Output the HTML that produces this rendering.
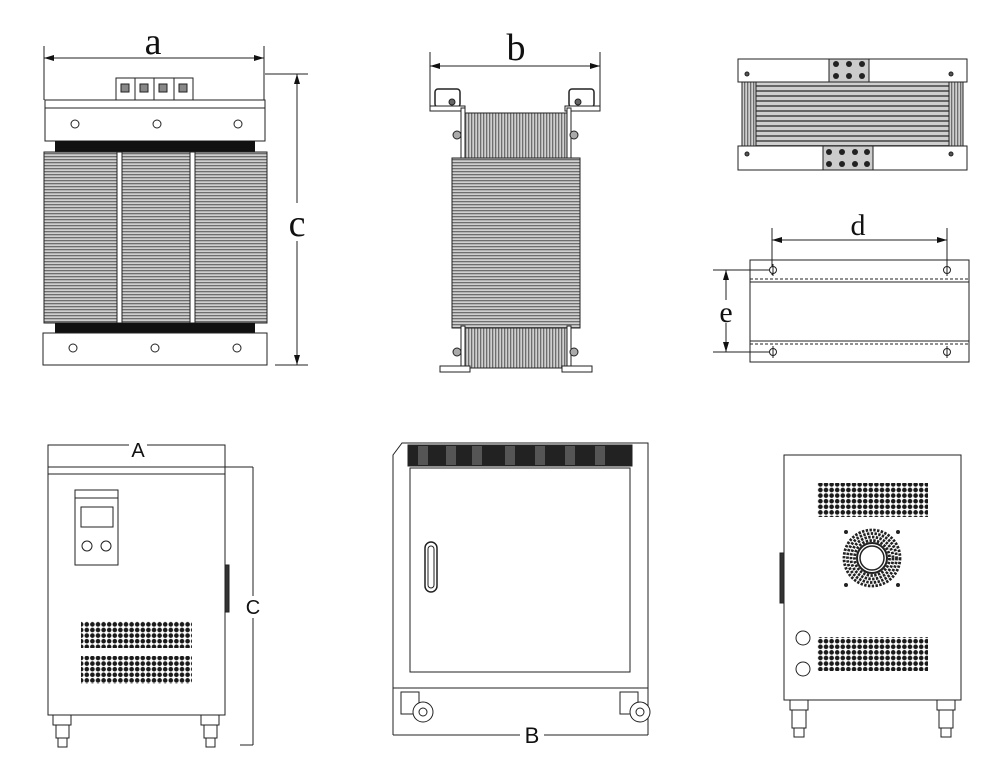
<!DOCTYPE html>
<html><head><meta charset="utf-8"><style>
html,body{margin:0;padding:0;background:#fff;}
svg{display:block;}
text{font-family:"Liberation Serif",serif;fill:#111;}
.s{font-family:"Liberation Sans",sans-serif;}
</style></head><body>
<svg width="1000" height="772" viewBox="0 0 1000 772" xmlns="http://www.w3.org/2000/svg">
<defs>
<pattern id="lh" width="4" height="3" patternUnits="userSpaceOnUse"><rect width="4" height="3" fill="#d0d0d0"/><rect width="4" height="1.3" fill="#6e6e6e"/></pattern>
<pattern id="lv" width="3" height="4" patternUnits="userSpaceOnUse"><rect width="3" height="4" fill="#d0d0d0"/><rect width="1.3" height="4" fill="#6e6e6e"/></pattern>
<pattern id="lh2" width="4" height="5" patternUnits="userSpaceOnUse"><rect width="4" height="5" fill="#cfcfcf"/><rect width="4" height="2" fill="#666"/></pattern>
<pattern id="dots" width="5.6" height="5.6" patternUnits="userSpaceOnUse"><circle cx="2.8" cy="2.8" r="2.3" fill="#1a1a1a"/></pattern>
<marker id="ar" viewBox="0 0 10 6" refX="10" refY="3" markerWidth="10" markerHeight="6" orient="auto-start-reverse" markerUnits="userSpaceOnUse"><path d="M0,0 L10,3 L0,6 Z" fill="#111"/></marker>
</defs>
<g stroke="#222" stroke-width="1" fill="none">
<!-- Top-left transformer -->
<line x1="44" y1="46" x2="44" y2="100"/><line x1="264" y1="46" x2="264" y2="100"/>
<line x1="44" y1="58" x2="264" y2="58" marker-start="url(#ar)" marker-end="url(#ar)"/>
<rect x="116" y="78" width="77" height="22" fill="#fff"/>
<line x1="135" y1="78" x2="135" y2="100"/><line x1="154" y1="78" x2="154" y2="100"/><line x1="174" y1="78" x2="174" y2="100"/>
<rect x="121" y="84" width="8" height="8" fill="#888"/><rect x="140" y="84" width="8" height="8" fill="#888"/><rect x="159" y="84" width="8" height="8" fill="#888"/><rect x="179" y="84" width="8" height="8" fill="#888"/>
<rect x="45" y="100" width="220" height="41" fill="#fff"/><line x1="45" y1="108" x2="265" y2="108"/>
<circle cx="75" cy="124" r="4"/><circle cx="157" cy="124" r="4"/><circle cx="238" cy="124" r="4"/>
<rect x="55" y="141" width="200" height="11" fill="#111" stroke="none"/>
<rect x="44" y="152" width="223" height="171" fill="url(#lh)"/>
<rect x="117" y="152" width="5" height="171" fill="#fff"/><rect x="190" y="152" width="5" height="171" fill="#fff"/>
<rect x="55" y="323" width="200" height="10" fill="#111" stroke="none"/>
<rect x="43" y="333" width="224" height="32" fill="#fff"/>
<circle cx="73" cy="348" r="4"/><circle cx="155" cy="348" r="4"/><circle cx="237" cy="348" r="4"/>
<line x1="265" y1="74" x2="308" y2="74"/><line x1="275" y1="365" x2="308" y2="365"/>
<line x1="297" y1="74" x2="297" y2="365" marker-start="url(#ar)" marker-end="url(#ar)"/>
<!-- Top-middle -->
<line x1="430" y1="52" x2="430" y2="108"/><line x1="600" y1="52" x2="600" y2="108"/>
<line x1="430" y1="66" x2="600" y2="66" marker-start="url(#ar)" marker-end="url(#ar)"/>
<rect x="435" y="89" width="25" height="18" rx="3" stroke-width="1.5"/><rect x="569" y="89" width="25" height="18" rx="3" stroke-width="1.5"/>
<circle cx="452" cy="102" r="3" fill="#666"/><circle cx="578" cy="102" r="3" fill="#666"/>
<rect x="430" y="106" width="35" height="5" fill="#fff"/><rect x="565" y="106" width="35" height="5" fill="#fff"/>
<rect x="465" y="113" width="102" height="45" fill="url(#lv)"/>
<rect x="461" y="108" width="4" height="52" fill="#fff"/><rect x="567" y="108" width="4" height="52" fill="#fff"/>
<circle cx="457" cy="135" r="4" fill="#aaa"/><circle cx="574" cy="135" r="4" fill="#aaa"/>
<rect x="452" y="158" width="128" height="170" fill="url(#lh)"/>
<rect x="465" y="328" width="102" height="40" fill="url(#lv)"/>
<rect x="461" y="326" width="4" height="44" fill="#fff"/><rect x="567" y="326" width="4" height="44" fill="#fff"/>
<circle cx="457" cy="352" r="4" fill="#aaa"/><circle cx="574" cy="352" r="4" fill="#aaa"/>
<rect x="440" y="366" width="30" height="6" fill="#fff"/><rect x="562" y="366" width="30" height="6" fill="#fff"/>
<!-- Top-right -->
<rect x="738" y="59" width="229" height="23" fill="#fff"/>
<rect x="738" y="146" width="229" height="24" fill="#fff"/>
<rect x="756" y="82" width="193" height="64" fill="url(#lh2)"/>
<rect x="742" y="82" width="14" height="64" fill="url(#lv)"/><rect x="949" y="82" width="14" height="64" fill="url(#lv)"/>
<circle cx="747" cy="74" r="2" fill="#555"/><circle cx="951" cy="74" r="2" fill="#555"/><circle cx="747" cy="154" r="2" fill="#555"/><circle cx="951" cy="154" r="2" fill="#555"/>
<rect x="829" y="59" width="40" height="23" fill="#ccc"/>
<rect x="823" y="146" width="50" height="24" fill="#ccc"/>
<g fill="#222" stroke="none">
<circle cx="836" cy="64" r="3"/><circle cx="849" cy="64" r="3"/><circle cx="862" cy="64" r="3"/>
<circle cx="836" cy="76" r="3"/><circle cx="849" cy="76" r="3"/><circle cx="862" cy="76" r="3"/>
<circle cx="829" cy="152" r="3"/><circle cx="842" cy="152" r="3"/><circle cx="855" cy="152" r="3"/><circle cx="867" cy="152" r="3"/>
<circle cx="829" cy="164" r="3"/><circle cx="842" cy="164" r="3"/><circle cx="855" cy="164" r="3"/><circle cx="867" cy="164" r="3"/>
</g>
<!-- d/e view -->
<rect x="750" y="260" width="219" height="102" fill="#fff"/>
<line x1="750" y1="279" x2="969" y2="279" stroke-dasharray="3 2"/><line x1="750" y1="282" x2="969" y2="282"/>
<line x1="750" y1="341" x2="969" y2="341"/><line x1="750" y1="344" x2="969" y2="344" stroke-dasharray="3 2"/>
<line x1="772" y1="228" x2="772" y2="275"/><line x1="947" y1="228" x2="947" y2="275"/>
<line x1="772" y1="240" x2="947" y2="240" marker-start="url(#ar)" marker-end="url(#ar)"/>
<line x1="713" y1="270" x2="770" y2="270"/><line x1="713" y1="352" x2="770" y2="352"/>
<line x1="726" y1="270" x2="726" y2="300" marker-start="url(#ar)"/><line x1="726" y1="323" x2="726" y2="352" marker-end="url(#ar)"/>
<g fill="#fff"><circle cx="773" cy="270" r="3.5"/><circle cx="947" cy="270" r="3.5"/><circle cx="773" cy="352" r="3.5"/><circle cx="947" cy="352" r="3.5"/></g>
<line x1="773" y1="264" x2="773" y2="276"/><line x1="947" y1="264" x2="947" y2="276"/><line x1="773" y1="346" x2="773" y2="358"/><line x1="947" y1="346" x2="947" y2="358"/>
<!-- Bottom-left cabinet -->
<rect x="48" y="445" width="177" height="270" fill="#fff"/>
<line x1="48" y1="467" x2="225" y2="467"/><line x1="48" y1="474" x2="225" y2="474"/>
<rect x="75" y="490" width="43" height="75"/><line x1="75" y1="498" x2="118" y2="498"/>
<rect x="81" y="507" width="32" height="20"/>
<circle cx="87" cy="546" r="5"/><circle cx="106" cy="546" r="5"/>
<rect x="81" y="621" width="111" height="27" fill="url(#dots)" stroke="none"/>
<rect x="81" y="656" width="111" height="28" fill="url(#dots)" stroke="none"/>
<rect x="225" y="565" width="4" height="47" fill="#333"/>
<line x1="225" y1="467" x2="253" y2="467"/><line x1="240" y1="745" x2="253" y2="745"/>
<line x1="253" y1="467" x2="253" y2="745"/>
<rect x="53" y="715" width="18" height="10" fill="#fff"/><rect x="56" y="725" width="13" height="13"/><rect x="58" y="738" width="9" height="9"/>
<rect x="201" y="715" width="18" height="10" fill="#fff"/><rect x="204" y="725" width="13" height="13"/><rect x="206" y="738" width="9" height="9"/>
<!-- Bottom-middle cabinet -->
<path d="M393,735 L393,455 L402,443 L648,443 L648,735" fill="#fff"/>
<rect x="408" y="445" width="224" height="21" fill="#222"/>
<g fill="#555" stroke="none"><rect x="418" y="446" width="10" height="19"/><rect x="446" y="446" width="10" height="19"/><rect x="472" y="446" width="10" height="19"/><rect x="505" y="446" width="10" height="19"/><rect x="535" y="446" width="10" height="19"/><rect x="565" y="446" width="10" height="19"/><rect x="595" y="446" width="10" height="19"/></g>
<rect x="410" y="468" width="220" height="204"/>
<rect x="425" y="542" width="12" height="50" rx="6" stroke-width="1.5"/><rect x="428" y="546" width="6" height="42" rx="3"/>
<line x1="393" y1="688" x2="648" y2="688"/>
<rect x="401" y="692" width="18" height="22" fill="#fff"/><circle cx="423" cy="712" r="10" fill="#fff"/><circle cx="423" cy="712" r="4"/>
<rect x="620" y="692" width="18" height="22" fill="#fff"/><circle cx="640" cy="712" r="10" fill="#fff"/><circle cx="640" cy="712" r="4"/>
<line x1="393" y1="735" x2="520" y2="735"/><line x1="544" y1="735" x2="648" y2="735"/>
<!-- Bottom-right cabinet -->
<rect x="784" y="455" width="177" height="245" fill="#fff"/>
<rect x="817" y="483" width="111" height="34" fill="url(#dots)" stroke="none"/>
<rect x="817" y="637" width="111" height="34" fill="url(#dots)" stroke="none"/>
<g stroke="#222" stroke-width="2.8" stroke-dasharray="2.4 1.4">
<circle cx="872" cy="558" r="28"/><circle cx="872" cy="558" r="24.5"/><circle cx="872" cy="558" r="21"/><circle cx="872" cy="558" r="17.5"/>
</g>
<circle cx="872" cy="558" r="15" stroke-width="2"/><circle cx="872" cy="558" r="12" fill="#fff" stroke-width="1.5"/>
<g fill="#222" stroke="none"><circle cx="846" cy="532" r="2"/><circle cx="898" cy="532" r="2"/><circle cx="846" cy="585" r="2"/><circle cx="898" cy="585" r="2"/></g>
<circle cx="803" cy="638" r="7"/><circle cx="803" cy="669" r="7"/>
<rect x="780" y="553" width="4" height="50" fill="#333"/>
<rect x="790" y="700" width="18" height="10" fill="#fff"/><rect x="792" y="710" width="14" height="18"/><rect x="794" y="728" width="10" height="9"/>
<rect x="937" y="700" width="18" height="10" fill="#fff"/><rect x="939" y="710" width="14" height="18"/><rect x="941" y="728" width="10" height="9"/>
</g>
<!-- labels -->
<text x="153" y="54" font-size="38" text-anchor="middle">a</text>
<rect x="285" y="203" width="24" height="38" fill="#fff"/>
<text x="297" y="236" font-size="38" text-anchor="middle">c</text>
<text x="516" y="60" font-size="38" text-anchor="middle">b</text>
<text x="858" y="235" font-size="30" text-anchor="middle">d</text>
<text x="726" y="322" font-size="30" text-anchor="middle">e</text>
<rect x="129" y="440" width="18" height="14" fill="#fff"/>
<text x="138" y="457" font-size="20" text-anchor="middle" class="s">A</text>
<rect x="244" y="596" width="18" height="22" fill="#fff"/>
<text x="253" y="614" font-size="20" text-anchor="middle" class="s">C</text>
<text x="532" y="743" font-size="22" text-anchor="middle" class="s">B</text>
</svg>
</body></html>
